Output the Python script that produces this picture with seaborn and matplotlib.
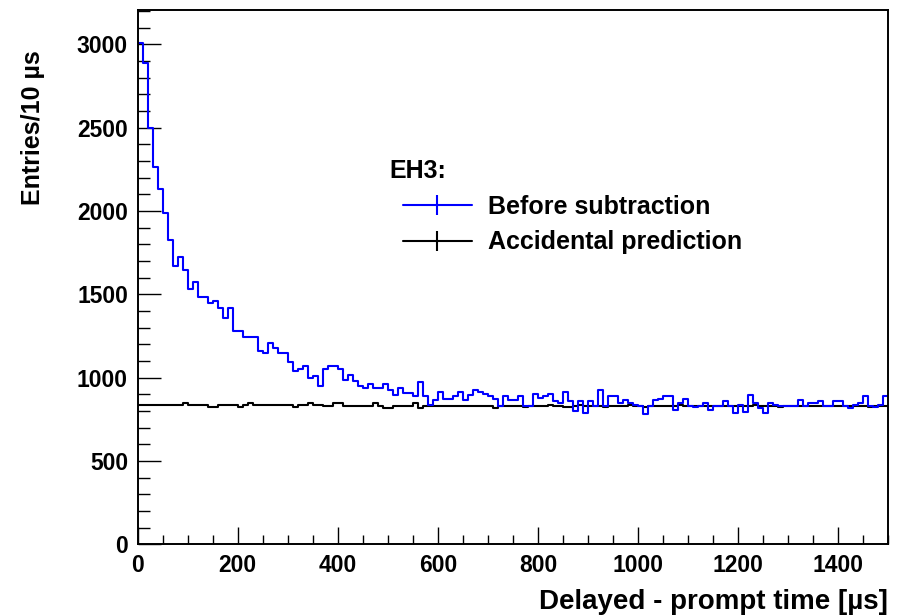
import numpy as np
import pandas as pd
import matplotlib
matplotlib.use("Agg")
import matplotlib.pyplot as plt
from matplotlib.lines import Line2D
from matplotlib.ticker import MultipleLocator
import seaborn as sns

# ---- data (entries per 10 us bin, 0..1500 us) ----
bin_width = 10
time_range = (0, 1500)
bin_centers = np.arange(5, 1500, 10)

before_subtraction = [
    3005, 2885, 2496, 2265, 2130, 1989, 1825, 1671, 1722, 1645,
    1530, 1572, 1482, 1482, 1446, 1460, 1416, 1356, 1416, 1280,
    1280, 1246, 1246, 1246, 1162, 1147, 1210, 1177, 1150, 1150,
    1091, 1037, 1051, 1067, 997, 1007, 947, 1050, 1067, 1067,
    1051, 987, 1017, 977, 947, 937, 963, 937, 937, 963,
    923, 897, 937, 907, 907, 891, 973, 887, 837, 867,
    911, 871, 871, 887, 911, 863, 897, 923, 911, 903,
    887, 871, 827, 887, 863, 863, 887, 827, 827, 901,
    877, 889, 899, 859, 845, 913, 857, 797, 857, 787,
    857, 827, 923, 827, 887, 887, 847, 863, 847, 837,
    827, 783, 827, 863, 871, 887, 887, 807, 847, 871,
    827, 821, 827, 847, 807, 827, 827, 857, 827, 787,
    837, 791, 897, 847, 817, 787, 847, 837, 831, 831,
    827, 831, 867, 827, 847, 847, 861, 831, 831, 857,
    857, 831, 817, 837, 847, 887, 827, 825, 837, 887,
]

accidental_prediction = [
    836, 836, 834, 836, 836, 838, 836, 836, 834, 850,
    836, 836, 834, 836, 826, 826, 836, 836, 838, 836,
    826, 836, 846, 836, 836, 836, 834, 836, 838, 836,
    836, 826, 836, 836, 846, 836, 836, 830, 830, 849,
    849, 832, 830, 830, 830, 830, 830, 849, 830, 816,
    816, 830, 830, 830, 830, 849, 818, 832, 832, 832,
    832, 832, 832, 832, 832, 832, 832, 832, 832, 832,
    832, 818, 832, 832, 832, 832, 832, 822, 832, 832,
    832, 832, 836, 832, 832, 824, 826, 832, 834, 832,
    832, 832, 832, 826, 832, 832, 832, 832, 834, 832,
    832, 826, 832, 832, 832, 832, 832, 832, 834, 832,
    830, 830, 830, 832, 830, 830, 830, 830, 830, 832,
    830, 830, 832, 834, 830, 830, 830, 830, 826, 830,
    830, 830, 830, 830, 830, 830, 830, 830, 830, 830,
    830, 830, 830, 830, 830, 830, 826, 830, 830, 830,
]

series_labels = ["Before subtraction", "Accidental prediction"]
legend_title = "EH3:"

sns.set_theme(style="white")
plt.rcParams["font.family"] = ["Liberation Sans", "DejaVu Sans"]
plt.rcParams["font.weight"] = "bold"
plt.rcParams["text.color"] = "black"
plt.rcParams["axes.labelcolor"] = "black"
plt.rcParams["xtick.color"] = "black"
plt.rcParams["ytick.color"] = "black"

W, H = 902, 616
fig = plt.figure(figsize=(W / 100, H / 100), dpi=100)
ax = fig.add_axes([137.7 / W, (H - 544.3) / H, 750.6 / W, 534.3 / H])

series_values = {series_labels[0]: before_subtraction,
                 series_labels[1]: accidental_prediction}
colors = {series_labels[0]: "#0000ff", series_labels[1]: "#000000"}
for name in [series_labels[1], series_labels[0]]:
    sub = pd.DataFrame({"time": bin_centers,
                        "entries": np.asarray(series_values[name], dtype=float)})
    sns.histplot(data=sub, x="time", weights="entries", binwidth=bin_width,
                 binrange=time_range, element="step", fill=False,
                 color=colors[name], linewidth=1.5, ax=ax)

ax.set_xlim(*time_range)
ax.set_ylim(0, 3206)

for side in ["left", "right", "top", "bottom"]:
    ax.spines[side].set_visible(True)
    ax.spines[side].set_color("black")
    ax.spines[side].set_linewidth(1.4)

ax.xaxis.set_major_locator(MultipleLocator(200))
ax.xaxis.set_minor_locator(MultipleLocator(50))
ax.yaxis.set_major_locator(MultipleLocator(500))
ax.yaxis.set_minor_locator(MultipleLocator(100))

ax.tick_params(axis="x", which="major", direction="in", length=12.2, width=1.0,
               color="black", labelcolor="black", bottom=True, top=False,
               labelsize=16.5, pad=7)
ax.tick_params(axis="x", which="minor", direction="in", length=6.5, width=1.0,
               color="black", bottom=True, top=False)
ax.tick_params(axis="y", which="major", direction="in", length=16.3, width=1.0,
               color="black", labelcolor="black", left=True, right=False,
               labelsize=16.5, pad=7)
ax.tick_params(axis="y", which="minor", direction="in", length=8.4, width=1.0,
               color="black", left=True, right=False)
for lab in ax.get_xticklabels() + ax.get_yticklabels():
    lab.set_fontweight("bold")

ax.set_xlabel("Delayed - prompt time [\u00b5s]", fontsize=20, fontweight="bold",
              loc="right", color="black")
ax.xaxis.set_label_coords(1.0, -0.083)
ax.set_ylabel("Entries/10 \u00b5s", fontsize=18, fontweight="bold", loc="top",
              color="black")
ax.yaxis.set_label_coords(-0.1235, 0.925)

# legend
handles = [
    Line2D([], [], color="#0000ff", lw=1.5, marker="|", markersize=14,
           markeredgewidth=1.5),
    Line2D([], [], color="black", lw=1.5, marker="|", markersize=14,
           markeredgewidth=1.5),
]
leg = ax.legend(handles, series_labels, loc="upper left",
                bbox_to_anchor=(403 / W, (H - 195) / H),
                bbox_transform=fig.transFigure, frameon=False,
                prop={"family": "Liberation Sans", "weight": "bold", "size": 18},
                handlelength=2.75, handletextpad=0.65, labelspacing=0.46,
                borderpad=0, borderaxespad=0, labelcolor="black")
fig.text(389 / W, (H - 171) / H, legend_title, fontsize=18, fontweight="bold",
         ha="left", va="center", color="black")

fig.savefig("out.png", dpi=100)
